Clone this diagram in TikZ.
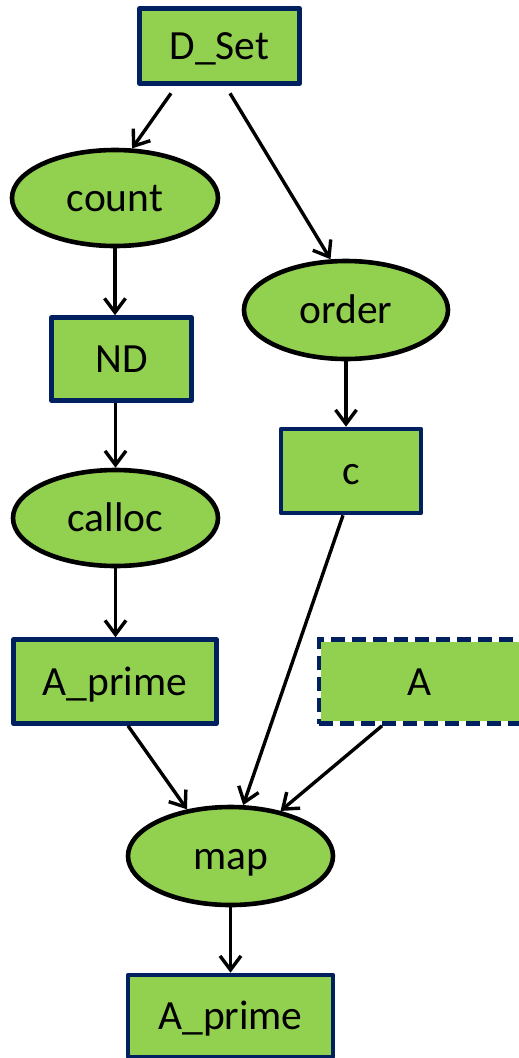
\documentclass[tikz,border=0pt]{standalone}
\usepackage{fontspec}
\setmainfont{Carlito}
\usetikzlibrary{arrows.meta,shapes.geometric}
\definecolor{boxgreen}{HTML}{92D050}
\definecolor{boxnavy}{HTML}{002060}
\tikzset{
  base/.style={fill=boxgreen, inner sep=0pt,
    font=\fontsize{41.5}{50}\selectfont, text height=37pt, text depth=10pt},
  databox/.style={base, rectangle, draw=boxnavy, line width=4.6pt, line join=round},
  dashbox/.style={base, rectangle, draw=white, line width=4.6pt,
    postaction={draw=boxnavy, line width=4.6pt, dash pattern=on 14pt off 7pt}},
  opnode/.style={base, ellipse, draw=black, line width=4.6pt},
  arr/.style={draw=black, line width=3.4pt, -{Straight Barb[length=14pt,width=21pt]}}
}
\begin{document}
\begin{tikzpicture}[x=1pt,y=-1pt]
\useasboundingbox (0,0) rectangle (519,1058);
\node[databox, minimum width=160pt, minimum height=75pt] (dset) at (219.5,46) {D\_Set};
\node[opnode, minimum width=206pt, minimum height=96pt] (count) at (115,198) {count};
\node[opnode, minimum width=204pt, minimum height=98pt] (order) at (346,310) {order};
\node[databox, minimum width=140pt, minimum height=83pt] (nd) at (121.5,359) {ND};
\node[databox, minimum width=140pt, minimum height=84pt] (c) at (351,471) {c};
\node[opnode, minimum width=205pt, minimum height=96pt] (calloc) at (115.5,518) {calloc};
\node[databox, minimum width=203pt, minimum height=84pt] (ap) at (115,681.5) {A\_prime};
\node[dashbox, minimum width=202pt, minimum height=84pt] (a) at (420,681.5) {A};
\node[opnode, minimum width=205pt, minimum height=98pt] (map) at (230.5,856) {map};
\node[databox, minimum width=205pt, minimum height=82pt] (ap2) at (230.5,1016) {A\_prime};

\draw[arr] ([xshift=-48.5pt,yshift=-7.5pt]dset.south) -- (count.71);
\draw[arr] ([xshift=10.5pt,yshift=-7.5pt]dset.south) -- (order.107);
\draw[arr] (count.south) -- (count.south |- nd.north);
\draw[arr] (order.south) -- (order.south |- c.north);
\draw[arr] (calloc.north |- nd.south) -- (calloc.north);
\draw[arr] (calloc.south) -- (calloc.south |- ap.north);
\draw[arr] ([xshift=13pt]ap.south) -- (map.133);
\draw[arr] ([xshift=-8pt]c.south) -- (map.76);
\draw[arr] ([xshift=-38pt]a.south) -- (map.42);
\draw[arr] (map.south) -- (map.south |- ap2.north);
\end{tikzpicture}
\end{document}
